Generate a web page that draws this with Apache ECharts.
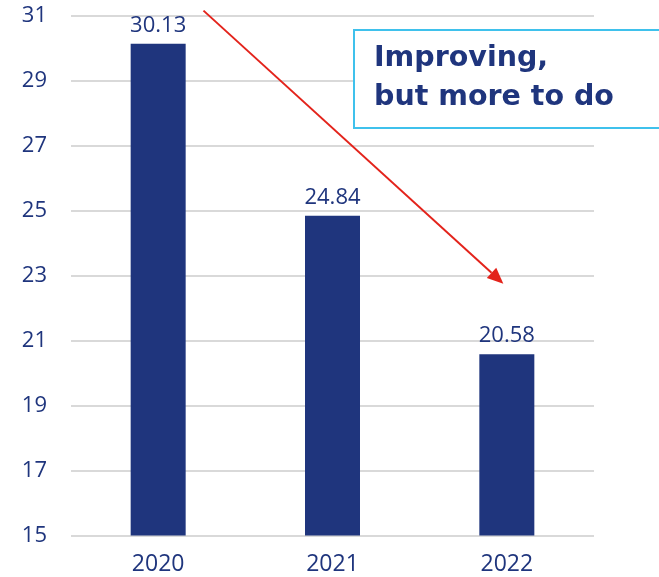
<!DOCTYPE html>
<html><head><meta charset="utf-8">
<script src="https://cdn.jsdelivr.net/npm/echarts@6/dist/echarts.min.js"></script>
<style>html,body{margin:0;padding:0;background:#fff}#c{width:659px;height:577px}</style>
</head><body><div id="c"></div>
<script>
const categories = ['2020', '2021', '2022'];
const values = [30.13, 24.84, 20.58];
const yTicks = [15, 17, 19, 21, 23, 25, 27, 29, 31];
const annotationText = ['Improving,', 'but more to do'];
const navy = '#1f357d';
const font = 'Open Sans';
const chart = echarts.init(document.getElementById('c'));
chart.setOption({
  animation: false,
  grid: {left: 71, right: 65, top: 15.5, bottom: 41.5},
  xAxis: {
    type: 'category', data: categories,
    axisLine: {show: false}, axisTick: {show: false},
    axisLabel: {color: navy, fontSize: 23, fontFamily: font, margin: 17}
  },
  yAxis: {
    type: 'value', min: yTicks[0], max: yTicks[yTicks.length - 1], interval: 2,
    axisLine: {show: false}, axisTick: {show: false},
    axisLabel: {color: navy, fontSize: 22, fontFamily: font, margin: 24},
    splitLine: {lineStyle: {color: '#d9d9d9', width: 2}}
  },
  series: [{
    type: 'bar', data: values, barWidth: 55,
    itemStyle: {color: navy},
    label: {show: true, position: 'top', distance: 7, color: navy, fontSize: 22, fontFamily: font,
      formatter: p => p.value.toFixed(2)}
  }]
});
// annotation arrow positioned relative to category bands
const c0 = chart.convertToPixel({gridIndex: 0}, [0, 31.15]);
const c1 = chart.convertToPixel({gridIndex: 0}, [1, 31.15]);
const band = c1[0] - c0[0];
const p0 = [c0[0] + 0.26 * band, c0[1]];
const e = chart.convertToPixel({gridIndex: 0}, [2, 22.75]);
const p1 = [e[0] - 0.02 * band, e[1]];
const ang = Math.atan2(p1[1] - p0[1], p1[0] - p0[0]);
const hl = 16, hw = 7;
const base = [p1[0] - hl * Math.cos(ang), p1[1] - hl * Math.sin(ang)];
const head = [p1,
  [base[0] + hw * Math.sin(ang), base[1] - hw * Math.cos(ang)],
  [base[0] - hw * Math.sin(ang), base[1] + hw * Math.cos(ang)]];
chart.setOption({
  graphic: [
    {type: 'line', shape: {x1: p0[0], y1: p0[1], x2: base[0], y2: base[1]}, style: {stroke: '#e3231b', lineWidth: 2}, z: 10},
    {type: 'polygon', shape: {points: head}, style: {fill: '#e3231b'}, z: 10},
    {type: 'rect', left: 353, top: 29, shape: {width: 306, height: 98}, style: {fill: '#fff', stroke: '#3fc1ec', lineWidth: 2}, z: 11},
    {type: 'text', left: 374, top: 39, style: {text: annotationText.join('\n'), fill: navy, font: 'bold 28.5px "DejaVu Sans"', lineHeight: 39}, z: 12}
  ]
});
</script></body></html>
